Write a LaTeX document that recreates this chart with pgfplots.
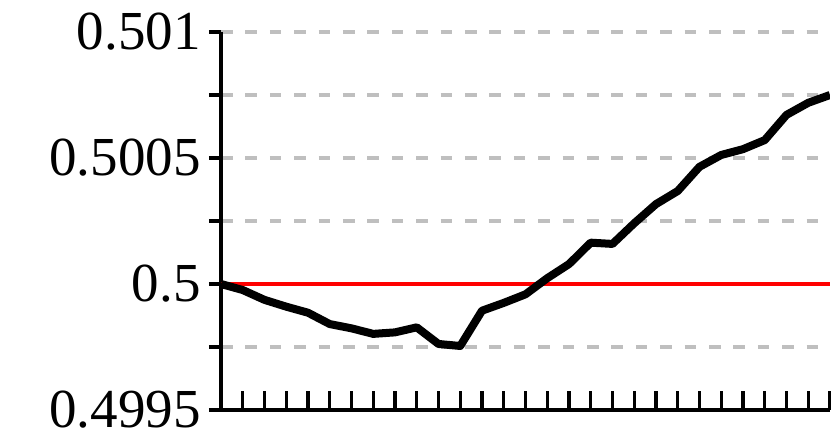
\documentclass[border=0pt]{standalone}
\usepackage{pgfplots}
\pgfplotsset{compat=1.18}
\usepackage{fontspec}
\setmainfont{Liberation Serif}

\pgfplotstableread{
x y
0 0.500000
1 0.499976
2 0.499937
3 0.499910
4 0.499886
5 0.499841
6 0.499824
7 0.499802
8 0.499808
9 0.499828
10 0.499762
11 0.499754
12 0.499894
13 0.499925
14 0.499959
15 0.500023
16 0.500079
17 0.500164
18 0.500159
19 0.500241
20 0.500317
21 0.500369
22 0.500465
23 0.500512
24 0.500535
25 0.500571
26 0.500671
27 0.500719
28 0.500750
}\series

\begin{document}
\begin{tikzpicture}
\begin{axis}[
  name=ax,
  set layers,
  scale only axis,
  width=304.5pt, height=189pt,
  xmin=0, xmax=28, ymin=0.4995, ymax=0.501,
  axis x line*=bottom, axis y line*=left,
  axis line style={line width=2pt},
  xtick={0,...,28}, xticklabels={},
  ytick=\empty,
  tick align=inside,
  major tick length=9.5pt,
  tick style={black, line width=1.6pt},
  extra y ticks={0.4995,0.49975,0.5,0.50025,0.5005,0.50075,0.501},
  extra y tick labels={0.4995,,0.5,,0.5005,,0.501},
  extra tick style={tick align=outside, major tick length=6pt, grid=major},
  grid style={black!25, line width=1.7pt, dash pattern=on 5.8pt off 6.4pt},
  yticklabel style={font=\fontsize{27.5}{30}\selectfont, inner sep=0pt, inner xsep=4pt},
]
\addplot[red, line width=2.3pt] coordinates {(0,0.5) (28,0.5)};
\addplot[black, line width=4pt, line join=round] table[x=x, y=y] {\series};
\end{axis}
\pgfresetboundingbox
\path ([shift={(-110.5pt,-16pt)}]ax.south west) rectangle ([shift={(0.5pt,16pt)}]ax.north east);
\end{tikzpicture}
\end{document}
